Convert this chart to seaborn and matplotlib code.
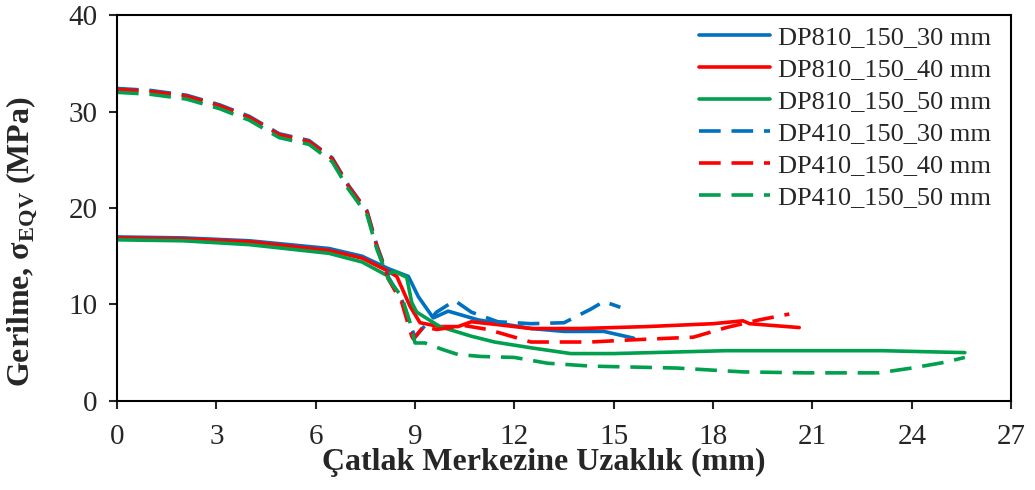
import numpy as np
import pandas as pd
import matplotlib
matplotlib.use("Agg")
import matplotlib.pyplot as plt
import seaborn as sns

# DP810 (solid lines)
x_810_30 = [0, 2, 4, 6.4, 7.4, 8.2, 8.8, 9.1, 9.55, 10.0, 10.9, 12.5, 13.5, 14.7, 15.6]
y_810_30 = [17.0, 16.9, 16.6, 15.8, 15.0, 13.7, 12.9, 10.8, 8.6, 9.3, 8.4, 7.5, 7.2, 7.2, 6.5]

x_810_40 = [0, 2, 4, 6.4, 7.4, 8.1, 8.45, 8.85, 9.15, 9.75, 10.3, 10.7, 11.5, 12.5, 14, 16, 18, 18.9, 19.1, 20.6]
y_810_40 = [16.9, 16.8, 16.5, 15.6, 14.8, 13.6, 12.9, 9.8, 8.1, 7.7, 7.7, 8.2, 7.9, 7.5, 7.5, 7.7, 8.0, 8.3, 8.0, 7.6]

x_810_50 = [0, 2, 4, 6.4, 7.4, 8.1, 8.4, 8.75, 8.9, 9.05, 9.75, 10.7, 11.4, 12.5, 13.7, 15, 18.4, 23.1, 25.6]
y_810_50 = [16.7, 16.6, 16.2, 15.3, 14.4, 13.1, 13.4, 12.8, 10.2, 9.2, 7.7, 6.7, 6.1, 5.5, 4.9, 4.9, 5.2, 5.2, 5.0]

# DP410 (dashed lines)
x_410_30 = [0, 1, 2.1, 3.1, 4.0, 4.9, 5.8, 6.5, 7.0, 7.55, 7.85, 8.2, 8.6, 8.9, 9.0, 9.3, 9.65, 10.2, 10.7, 11.5, 12.5, 13.5, 14.3, 14.7, 15.2]
y_410_30 = [32.4, 32.2, 31.7, 30.7, 29.5, 27.7, 27.0, 25.2, 22.3, 19.7, 16.1, 12.8, 10.5, 7.5, 6.6, 7.8, 9.2, 10.4, 9.2, 8.2, 8.0, 8.1, 9.5, 10.3, 9.7]

x_410_40 = [0, 1, 2.1, 3.1, 4.0, 4.9, 5.8, 6.5, 7.0, 7.55, 7.85, 8.2, 8.6, 8.9, 8.95, 9.25, 9.65, 10.5, 11.2, 12.5, 14.3, 15.4, 17.4, 18.4, 19.4, 20.3]
y_410_40 = [32.3, 32.1, 31.6, 30.6, 29.4, 27.6, 26.9, 25.1, 22.2, 19.6, 16.0, 12.6, 10.2, 6.7, 6.4, 7.7, 7.4, 7.8, 7.4, 6.1, 6.1, 6.3, 6.6, 7.6, 8.4, 9.0]

x_410_50 = [0, 1, 2.1, 3.1, 4.0, 4.9, 5.8, 6.5, 7.0, 7.55, 7.85, 8.2, 8.6, 8.85, 9.0, 9.3, 9.85, 10.3, 11.0, 12.0, 13.0, 14.3, 16.9, 18.9, 20.8, 23.0, 24.0, 25.0, 25.6]
y_410_50 = [32.0, 31.8, 31.3, 30.3, 29.1, 27.3, 26.6, 24.8, 21.9, 19.3, 15.7, 12.6, 10.8, 8.1, 6.0, 6.0, 5.3, 4.8, 4.6, 4.5, 3.9, 3.6, 3.4, 3.0, 2.9, 2.9, 3.4, 4.0, 4.5]

names = ["DP810_150_30 mm", "DP810_150_40 mm", "DP810_150_50 mm",
         "DP410_150_30 mm", "DP410_150_40 mm", "DP410_150_50 mm"]
xs = [x_810_30, x_810_40, x_810_50, x_410_30, x_410_40, x_410_50]
ys = [y_810_30, y_810_40, y_810_50, y_410_30, y_410_40, y_410_50]

blue = "#0070C0"
red = "#FF0000"
green = "#00A04F"
palette = dict(zip(names, [blue, red, green, blue, red, green]))
dashes = dict(zip(names, ["", "", "", (6, 3), (6, 3), (6, 3)]))

frames = []
for n, x, y in zip(names, xs, ys):
    frames.append(pd.DataFrame({"x": x, "y": y, "seri": n}))
df = pd.concat(frames, ignore_index=True)

sns.set_style("white")
plt.rcParams["font.family"] = ["Liberation Serif", "DejaVu Serif"]
plt.rcParams["mathtext.fontset"] = "custom"
plt.rcParams["mathtext.rm"] = "Liberation Serif"
plt.rcParams["mathtext.bf"] = "Liberation Serif:bold"

fig = plt.figure(figsize=(10.35, 4.9), dpi=100)
ax = fig.add_axes([0.113, 0.182, 0.864, 0.787])

sns.lineplot(data=df, x="x", y="y", hue="seri", style="seri", hue_order=names,
             style_order=names, palette=palette, dashes=dashes, sort=False,
             estimator=None, linewidth=2.6, ax=ax)

ax.set_xlim(0, 27)
ax.set_ylim(0, 40)
ax.set_xticks(np.arange(0, 28, 3))
ax.set_yticks(np.arange(0, 41, 10))
ax.tick_params(axis="both", direction="out", length=6, width=1.5, labelsize=21,
               bottom=True, left=True)
ax.tick_params(axis="x", pad=11)
ax.tick_params(axis="y", pad=8)
for s in ax.spines.values():
    s.set_color("black")
    s.set_linewidth(1.5)

ax.set_xlabel("Çatlak Merkezine Uzaklık (mm)", fontsize=23, fontweight="bold")
ax.set_ylabel(r"Gerilme, σ$_\mathbf{EQV}$ (MPa)", fontsize=23, fontweight="bold")
ax.xaxis.set_label_coords(0.477, -0.122)
ax.yaxis.set_label_coords(-0.086, 0.414)

leg = ax.legend(loc="upper right", bbox_to_anchor=(0.989, 1.0), frameon=False,
                fontsize=19, handlelength=2.7, handletextpad=0.3,
                labelspacing=0.32, borderaxespad=0.0)

fig.savefig("out.png", dpi=100)
